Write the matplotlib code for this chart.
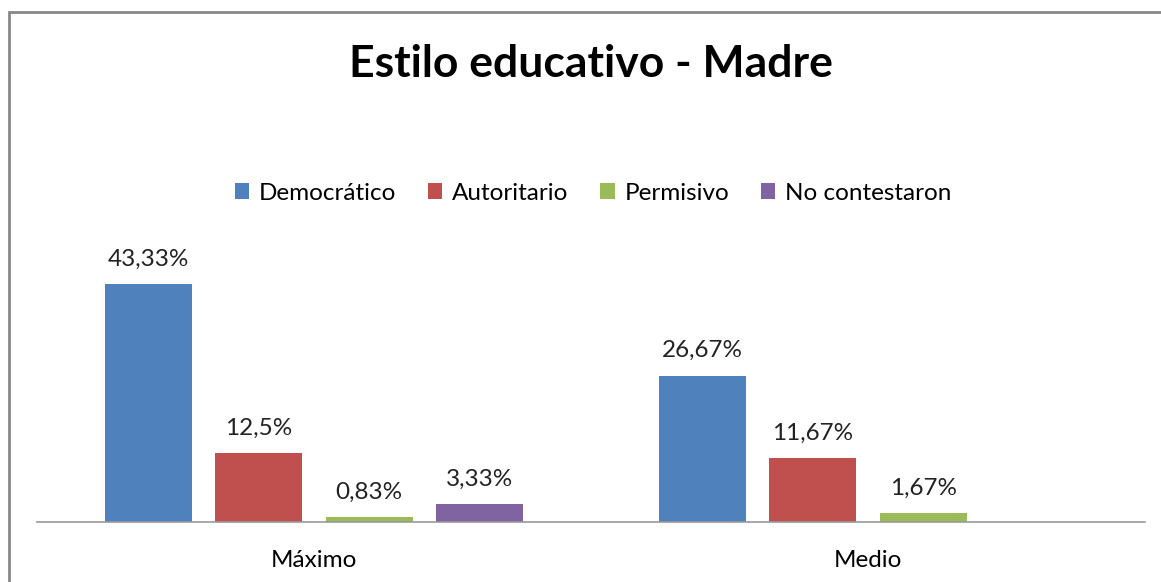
import matplotlib.pyplot as plt
from matplotlib.patches import Rectangle
import numpy as np

categories = ['Máximo', 'Medio']
series = ['Democrático', 'Autoritario', 'Permisivo', 'No contestaron']
values = {
    'Democrático': [43.33, 26.67],
    'Autoritario': [12.5, 11.67],
    'Permisivo': [0.83, 1.67],
    'No contestaron': [3.33, None],
}
labels = {
    'Democrático': ['43,33%', '26,67%'],
    'Autoritario': ['12,5%', '11,67%'],
    'Permisivo': ['0,83%', '1,67%'],
    'No contestaron': ['3,33%', None],
}
colors = ['#4f81bd', '#c0504d', '#9bbb59', '#8064a2']

plt.rcParams['font.family'] = ['Lato', 'DejaVu Sans']

W, H = 1161, 582
fig = plt.figure(figsize=(W / 100, H / 100), dpi=100)
# plot area: x 37..1145, baseline at y=522
ax = fig.add_axes([37 / W, (H - 522) / H, (1145 - 37) / W, 274.5 / H])

x = np.arange(len(categories))
step = 0.1995
width = 0.157
for i, s in enumerate(series):
    for j, v in enumerate(values[s]):
        if v is None:
            continue
        xp = x[j] + (i - 1.5) * step
        ax.bar(xp, v, width=width, color=colors[i], label=s if j == 0 else None)
        ax.text(xp, v + 2.6, labels[s][j], ha='center', va='bottom',
                fontsize=17.5, color='#222222')

ax.set_xlim(-0.5, 1.5)
ax.set_ylim(0, 50)
ax.set_yticks([])
ax.set_xticks(x)
ax.set_xticklabels(categories, fontsize=17.5)
ax.tick_params(axis='x', length=0, pad=20)
for sp in ['top', 'right', 'left']:
    ax.spines[sp].set_visible(False)
ax.spines['bottom'].set_color('#999999')
ax.spines['bottom'].set_linewidth(1.2)

fig.text(591 / W, (H - 64) / H, 'Estilo educativo - Madre', ha='center', va='center',
         fontsize=32, fontweight='bold')

fig.legend(loc='center', bbox_to_anchor=(593 / W, (H - 193) / H), ncol=4, frameon=False,
           fontsize=17.5, handlelength=0.6, handleheight=0.6, handletextpad=0.4,
           columnspacing=1.3)

# chart border
fig.add_artist(Rectangle((9 / W, -0.1), 1.2, (H - 12) / H + 0.1, transform=fig.transFigure,
                         fill=False, edgecolor='#888888', linewidth=2))

fig.savefig('out.png', dpi=100)
